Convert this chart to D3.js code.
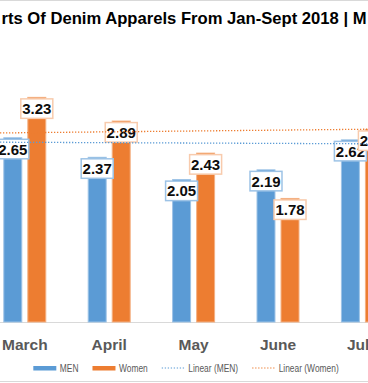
<!DOCTYPE html>
<html>
<head>
<meta charset="utf-8">
<script src="https://cdn.jsdelivr.net/npm/d3@7"></script>
<style>
  html, body { margin: 0; padding: 0; background: #fff; }
  svg { display: block; }
</style>
</head>
<body>
<svg id="chart"></svg>
<script>
const W = 368, H = 383;

// visible part of the chart (the source is cropped left and right)
const titleText = "rts Of Denim Apparels From Jan-Sept 2018 | M";
const months = ["March", "April", "May", "June", "July"];
const series = ["MEN", "Women"];
const menValues = [2.65, 2.37, 2.05, 2.19, 2.62];
const womenValues = [3.23, 2.89, 2.43, 1.78, 2.77];
// linear trend lines, value read at March and at July
const trendMen = [2.578, 2.557];
const trendWomen = [2.716, 2.765];
const legendLabels = ["MEN", "Women", "Linear (MEN)", "Linear (Women)"];

const colors = { MEN: "#5B9BD5", Women: "#ED7D31" };
const edge = { MEN: "#9DC3E6", Women: "#F4B183" };

const svg = d3.select("#chart")
  .attr("width", W).attr("height", H)
  .attr("viewBox", `0 0 ${W} ${H}`);

// chart border, only top and bottom are visible in the crop
svg.append("line").attr("x1", 0).attr("x2", W).attr("y1", 0.5).attr("y2", 0.5)
  .attr("stroke", "#d9d9d9");
svg.append("line").attr("x1", 0).attr("x2", W).attr("y1", 381.5).attr("y2", 381.5)
  .attr("stroke", "#d9d9d9");

// title
svg.append("text")
  .attr("x", 1.5).attr("y", 24)
  .attr("textLength", 365).attr("lengthAdjust", "spacingAndGlyphs")
  .style("font-family", "'Liberation Sans', Arial, sans-serif")
  .style("font-weight", "bold").style("font-size", "16.5px")
  .attr("fill", "#000")
  .text(titleText);

const step = 84.4;
const firstCenter = 24.8;
const x = d3.scaleBand()
  .domain(months)
  .range([firstCenter - step / 2, firstCenter - step / 2 + step * months.length])
  .padding(0);
const groupW = 43;
const xSub = d3.scaleBand().domain(series)
  .range([(step - groupW) / 2, (step + groupW) / 2])
  .paddingInner(0.21);

const baseY = 322;
const pxPerUnit = 69.7;
const y = d3.scaleLinear().domain([0, 1]).range([baseY, baseY - pxPerUnit]);

const rows = months.map((m, i) => ({ month: m, MEN: menValues[i], Women: womenValues[i] }));

// axis baseline
svg.append("line")
  .attr("x1", 0).attr("x2", W)
  .attr("y1", baseY + 0.5).attr("y2", baseY + 0.5)
  .attr("stroke", "#d9d9d9").attr("stroke-width", 1);

const groups = svg.append("g").selectAll("g")
  .data(rows).join("g")
  .attr("transform", d => `translate(${x(d.month)},0)`);

groups.selectAll("rect")
  .data(d => series.map(s => ({ key: s, value: d[s] })))
  .join("rect")
  .attr("x", d => xSub(d.key) + 0.5)
  .attr("width", xSub.bandwidth() - 1)
  .attr("y", d => y(d.value) + 0.5)
  .attr("height", d => y(0) - y(d.value) - 0.5)
  .attr("fill", d => colors[d.key])
  .attr("stroke", d => edge[d.key])
  .attr("stroke-width", 1);

// trend lines: linear between March and July, extended to the crop edges
const xi = d3.scaleLinear().domain([0, months.length - 1])
  .range([x(months[0]) + step / 2, x(months[months.length - 1]) + step / 2]);
function trendAt(t, i) {
  return t[0] + (t[1] - t[0]) * i / (months.length - 1);
}
const iLeft = xi.invert(0), iRight = xi.invert(W);
[[trendMen, colors.MEN], [trendWomen, colors.Women]].forEach(([t, c]) => {
  svg.append("line")
    .attr("x1", xi(iLeft)).attr("y1", y(trendAt(t, iLeft)))
    .attr("x2", xi(iRight)).attr("y2", y(trendAt(t, iRight)))
    .attr("stroke", c).attr("stroke-width", 1.3)
    .attr("stroke-dasharray", "1.3,1.7");
});

// data labels
const labelFont = "'Liberation Sans', Arial, sans-serif";
const lab = groups.selectAll("g.lab")
  .data(d => series.map(s => ({ key: s, value: d[s] })))
  .join("g").attr("class", "lab")
  .attr("transform", d => `translate(${xSub(d.key) + xSub.bandwidth() / 2},${y(d.value) + 2})`);
const boxW = 32, boxH = 19.5;
lab.append("rect")
  .attr("x", -boxW / 2).attr("y", 0)
  .attr("width", boxW).attr("height", boxH)
  .attr("fill", "#fff")
  .attr("stroke", d => d.key === "MEN" ? "#9DC3E6" : "#F8CBAD")
  .attr("stroke-width", 1.5);
lab.append("text")
  .attr("x", 0).attr("y", boxH / 2 + 5.5)
  .attr("text-anchor", "middle")
  .style("font-family", labelFont)
  .style("font-weight", "bold").style("font-size", "15px")
  .attr("fill", "#0d0d0d")
  .text(d => d3.format(".2f")(d.value));

// category labels
svg.append("g").selectAll("text")
  .data(months).join("text")
  .attr("x", d => x(d) + step / 2)
  .attr("y", 350)
  .attr("text-anchor", "middle")
  .style("font-family", labelFont)
  .style("font-weight", "bold").style("font-size", "15.5px")
  .attr("fill", "#595959")
  .text(d => d);

// legend (text squeezed horizontally to mimic a narrow font)
const legend = svg.append("g");
const legendItems = legendLabels.map((t, i) => ({
  text: t,
  color: i % 2 === 0 ? colors.MEN : colors.Women,
  dotted: i >= 2
}));
const swW = 23, swGap = 3.5, itemGap = 14, squeeze = 0.8;
const li = legend.selectAll("g").data(legendItems).join("g");
li.append("text")
  .attr("transform", `translate(${swW + swGap},371.5) scale(${squeeze},1)`)
  .style("font-family", labelFont).style("font-size", "10.5px")
  .attr("fill", "#595959")
  .text(d => d.text);
li.each(function (d) {
  const g = d3.select(this);
  if (d.dotted) {
    g.append("line").attr("x1", 0).attr("x2", swW).attr("y1", 368).attr("y2", 368)
      .attr("stroke", d.color).attr("stroke-width", 1.2).attr("stroke-dasharray", "1.3,1.7");
  } else {
    g.append("rect").attr("x", 0).attr("y", 366).attr("width", swW).attr("height", 4.5)
      .attr("fill", d.color);
  }
  d.w = swW + swGap + g.select("text").node().getComputedTextLength() * squeeze;
});
const total = d3.sum(legendItems, d => d.w) + itemGap * (legendItems.length - 1);
let cx = 186 - total / 2;
li.attr("transform", d => { const t = `translate(${cx},0)`; cx += d.w + itemGap; return t; });
</script>
</body>
</html>
